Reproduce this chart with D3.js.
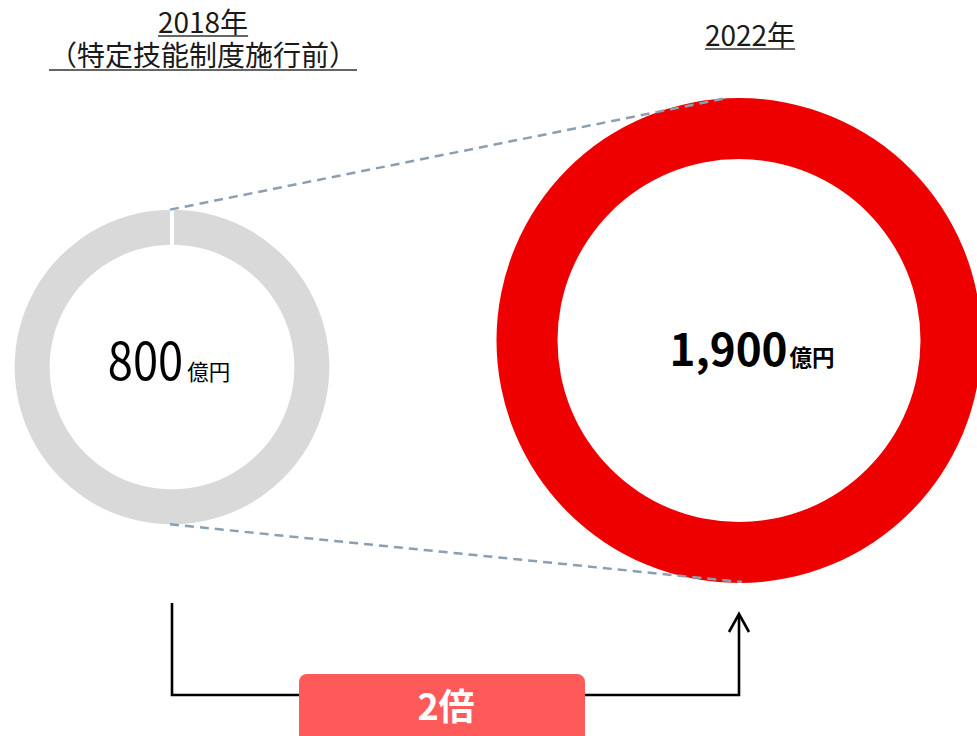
<!DOCTYPE html>
<html lang="ja">
<head>
<meta charset="utf-8">
<script src="https://cdn.jsdelivr.net/npm/d3@7"></script>
<style>
  html, body { margin: 0; padding: 0; background: #fff; }
  svg { display: block; font-family: "Noto Sans CJK JP", "Noto Sans", sans-serif; }
</style>
</head>
<body>
<svg id="chart" width="977" height="736"></svg>
<script>
// Market size before and after the specified skilled worker system
const years = ["2018年", "2022年"];
const subtitles = ["（特定技能制度施行前）", ""];
const values = [800, 1900];
const valueLabels = ["800", "1,900"];
const unitLabel = "億円";
const ratioLabel = "2倍";

const W = 977, H = 736;
const svg = d3.select("#chart");

// ring centres and styling
const centers = [{ x: 172, y: 367 }, { x: 739, y: 340.5 }];
const ringWidth = [35, 61];
const ringColor = ["#d9d9d9", "#ef0000"];

// outer radius follows the area of the value
const rScale = d3.scaleSqrt().domain([0, 1900]).range([0, 242.5]);

const rings = values.map((v, i) => {
  const outer = rScale(v);
  return { i, v, cx: centers[i].x, cy: centers[i].y, outer, inner: outer - ringWidth[i] };
});

// rings
rings.forEach(r => {
  const g = svg.append("g").attr("transform", `translate(${r.cx},${r.cy})`);
  const arc = d3.arc().innerRadius(r.inner).outerRadius(r.outer);
  if (r.i === 0) {
    // earlier year: ring with a thin notch at the top
    arc.padRadius(100).padAngle(0.04);
    g.append("path")
      .attr("d", arc({ startAngle: 0, endAngle: 2 * Math.PI - 1e-6 }))
      .attr("fill", ringColor[r.i]);
  } else {
    g.append("path")
      .attr("d", arc({ startAngle: 0, endAngle: 2 * Math.PI }))
      .attr("fill", ringColor[r.i]);
  }
});

// dashed guide lines joining the two rings
const [a, b] = rings;
const topEnd = { x: b.cx - 14, y: b.cy - Math.sqrt(b.outer * b.outer - 14 * 14) };
const guides = [
  [{ x: a.cx - 2, y: a.cy - a.outer }, topEnd],
  [{ x: a.cx - 2, y: a.cy + a.outer }, { x: b.cx + 3, y: b.cy + b.outer - 1 }]
];
svg.append("g").selectAll("line").data(guides).join("line")
  .attr("x1", d => d[0].x).attr("y1", d => d[0].y)
  .attr("x2", d => d[1].x).attr("y2", d => d[1].y)
  .attr("stroke", "#8c9fb1")
  .attr("stroke-width", 2.5)
  .attr("stroke-dasharray", "9,6");

// value labels in the ring centres
function valueLabel(r, opts) {
  const g = svg.append("g");
  const numG = g.append("g");
  const num = numG.append("text")
    .attr("font-size", opts.numSize)
    .attr("font-weight", opts.weight)
    .attr("fill", "#000")
    .text(valueLabels[r.i]);
  const sx = opts.squeeze || 1;
  const numW = num.node().getComputedTextLength() * sx;
  const unit = g.append("text")
    .attr("font-size", opts.unitSize)
    .attr("font-weight", opts.weight)
    .attr("fill", "#000")
    .text(unitLabel);
  const unitW = unit.node().getComputedTextLength();
  const total = numW + opts.gap + unitW;
  const x0 = r.cx + opts.dx - total / 2;
  numG.attr("transform", `translate(${x0},${r.cy + opts.dy}) scale(${sx},1)`);
  unit.attr("x", x0 + numW + opts.gap).attr("y", r.cy + opts.dy);
}
valueLabel(a, { numSize: 52, unitSize: 21.5, weight: 400, squeeze: 0.87, gap: 4, dx: -3, dy: 13 });
valueLabel(b, { numSize: 44, unitSize: 22.5, weight: 700, gap: 2, dx: 13, dy: 25 });

// year headings (one text block per column), each line underlined
function heading(lines, cx, baselines, underlineOffset) {
  const t = svg.append("text")
    .attr("text-anchor", "middle")
    .attr("font-size", 28)
    .attr("fill", "#1a1a1a");
  lines.forEach((line, k) => {
    const span = t.append("tspan")
      .attr("x", cx).attr("y", baselines[k])
      .text(line);
    const w = span.node().getComputedTextLength();
    svg.append("line")
      .attr("x1", cx - w / 2).attr("x2", cx + w / 2)
      .attr("y1", baselines[k] + underlineOffset[k])
      .attr("y2", baselines[k] + underlineOffset[k])
      .attr("stroke", "#333").attr("stroke-width", 1.6);
  });
}
heading([years[0], subtitles[0]], 203, [33, 66], [3, 4]);
heading([years[1]], 750, [46], [3]);

// connector from the earlier ring to the later one
const lineY = 695;
const conn = svg.append("g")
  .attr("fill", "none")
  .attr("stroke", "#000")
  .attr("stroke-width", 2.6)
  .attr("stroke-linejoin", "miter");
conn.append("path")
  .attr("d", `M${a.cx},603 V${lineY} H${b.cx} V614`);
conn.append("path")
  .attr("d", `M${b.cx - 10},632 L${b.cx},614 L${b.cx + 10},632`);

// ratio badge
svg.append("rect")
  .attr("x", 299).attr("y", 674)
  .attr("width", 286).attr("height", 80)
  .attr("rx", 8)
  .attr("fill", "#ff5a5a");
svg.append("text")
  .attr("x", 446).attr("y", 720)
  .attr("text-anchor", "middle")
  .attr("font-size", 36)
  .attr("font-weight", 700)
  .attr("fill", "#fff")
  .text(ratioLabel);
</script>
</body>
</html>
